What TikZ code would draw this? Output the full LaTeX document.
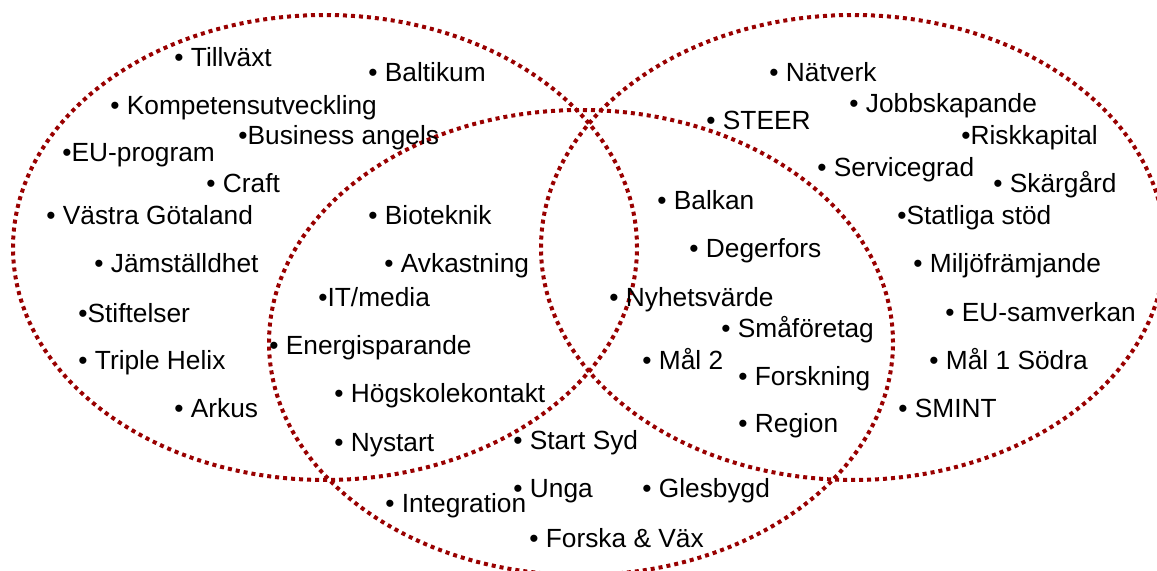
\documentclass[tikz,border=0pt]{standalone}
\usepackage{fontspec}
\setmainfont{Liberation Sans}
\definecolor{vennred}{RGB}{153,0,0}
\tikzset{
  venn/.style={draw=vennred, line width=2pt, dash pattern=on 2pt off 2pt},
  item/.style={anchor=base west, inner sep=0pt, font=\fontsize{13.15}{15}\selectfont}
}
\begin{document}
\begin{tikzpicture}[x=0.5pt, y=-0.5pt]
  \useasboundingbox (0,0) rectangle (1157,571);
  \clip (0,0) rectangle (1157,571);
  % the three circles
  \draw[venn] (325,247.5) ellipse [x radius=156pt, y radius=116.25pt];
  \draw[venn] (853,247.5) ellipse [x radius=156pt, y radius=116.25pt];
  \draw[venn] (581,342.5) ellipse [x radius=156pt, y radius=116.25pt];
  % left only
  \foreach \n/\x/\y/\t in {
    tillvaxt/174/67/{• Tillväxt}, baltikum/368/82/{• Baltikum},
    kompetens/110/115/{• Kompetensutveckling}, angels/238/145/{•Business angels},
    euprogram/62/162/{•EU-program}, craft/206/193/{• Craft},
    vastra/46/225/{• Västra Götaland}, jamst/94/273/{• Jämställdhet},
    stiftelser/78/323/{•Stiftelser}, triple/78/370/{• Triple Helix},
    arkus/174/418/{• Arkus}} {
    \node[item] (\n) at (\x,\y) {\t};
  }
  % left and bottom
  \foreach \n/\x/\y/\t in {
    bioteknik/368/225/{• Bioteknik}, avkastning/384/273/{• Avkastning},
    itmedia/318/307/{•IT/media}, energi/269/355/{• Energisparande},
    hogskole/334/403/{• Högskolekontakt}, nystart/334/452/{• Nystart}} {
    \node[item] (\n) at (\x,\y) {\t};
  }
  % right and bottom
  \foreach \n/\x/\y/\t in {
    balkan/657/210/{• Balkan}, degerfors/689/258/{• Degerfors},
    nyhet/609/307/{• Nyhetsvärde}, smaforetag/721/338/{• Småföretag},
    mal2/642/370/{• Mål 2}, forskning/738/386/{• Forskning},
    region/738/433/{• Region}} {
    \node[item] (\n) at (\x,\y) {\t};
  }
  % bottom only
  \foreach \n/\x/\y/\t in {
    startsyd/513/450/{• Start Syd}, unga/513/498/{• Unga},
    glesbygd/642/498/{• Glesbygd}, integration/385/513/{• Integration},
    forska/529/547/{• Forska \& Väx}} {
    \node[item] (\n) at (\x,\y) {\t};
  }
  % right only
  \foreach \n/\x/\y/\t in {
    natverk/769/82/{• Nätverk}, steer/706/130/{• STEER},
    jobb/849/113/{• Jobbskapande}, risk/961/145/{•Riskkapital},
    service/817/177/{• Servicegrad}, skargard/993/193/{• Skärgård},
    statliga/897/225/{•Statliga stöd}, miljo/913/273/{• Miljöfrämjande},
    eusamv/945/322/{• EU-samverkan}, mal1/929/370/{• Mål 1 Södra},
    smint/898/418/{• SMINT}} {
    \node[item] (\n) at (\x,\y) {\t};
  }
\end{tikzpicture}
\end{document}
